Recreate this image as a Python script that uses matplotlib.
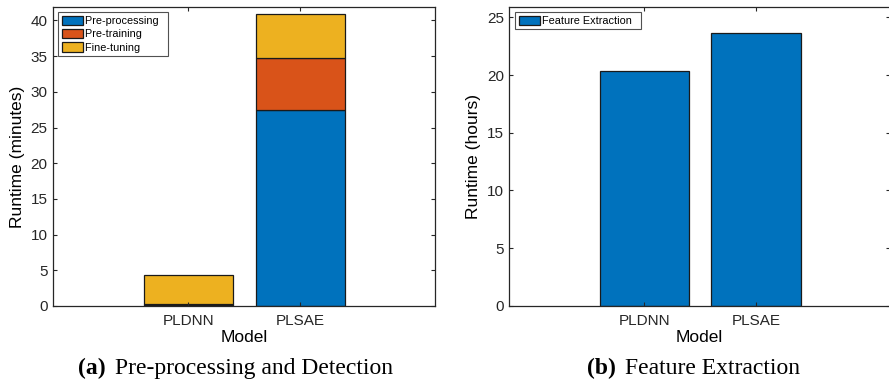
import matplotlib.pyplot as plt
import numpy as np

models = ['PLDNN', 'PLSAE']
pre_processing = [0.15, 27.5]
pre_training = [0.10, 7.2]
fine_tuning = [4.1, 6.2]
feature_extraction = [20.35, 23.6]

stage_names = ['Pre-processing', 'Pre-training', 'Fine-tuning']
colors = ['#0072BD', '#D95319', '#EDB120']

plt.rcParams['font.family'] = ['Liberation Sans', 'DejaVu Sans']

fig = plt.figure(figsize=(8.89, 3.82), dpi=100)
ax1 = fig.add_axes([0.0596, 0.199, 0.4294, 0.783])
ax2 = fig.add_axes([0.5729, 0.199, 0.4281, 0.783])

x = np.arange(1, len(models) + 1)

bottom = np.zeros(len(models))
for vals, name, c in zip([pre_processing, pre_training, fine_tuning],
                         stage_names, colors):
    # trailing spaces mimic the roomy MATLAB legend box
    ax1.bar(x, vals, 0.8, bottom=bottom, color=c, edgecolor='#1a1a1a',
            linewidth=0.9, label=name + '  ')
    bottom += np.array(vals)

ax2.bar(x, feature_extraction, 0.8, color=colors[0], edgecolor='#1a1a1a',
        linewidth=0.9, label='Feature Extraction  ')

for ax, ylab, ymax, yt in [(ax1, 'Runtime (minutes)', 41.9, np.arange(0, 41, 5)),
                           (ax2, 'Runtime (hours)', 25.9, np.arange(0, 26, 5))]:
    ax.set_xlim(-0.21, 3.2)
    ax.set_ylim(0, ymax)
    ax.set_xticks(x)
    ax.set_xticklabels(models)
    ax.set_yticks(yt)
    ax.tick_params(direction='in', length=3, width=0.8, labelsize=11,
                   top=True, right=True, colors='#262626', pad=4)
    ax.tick_params(axis='x', pad=6)
    for sp in ax.spines.values():
        sp.set_linewidth(0.9)
        sp.set_color('#262626')
    ax.set_ylabel(ylab, fontsize=12.5, labelpad=4)
    ax.set_xlabel('Model', fontsize=12.5, labelpad=1.5)

leg_kw = dict(loc='upper left', fontsize=7.8, frameon=True, fancybox=False,
              edgecolor='#262626', handlelength=2.0, handleheight=0.95,
              handletextpad=0.15, borderaxespad=0, borderpad=0.3,
              labelspacing=0.28)
leg1 = ax1.legend(bbox_to_anchor=(0.014, 0.982), **leg_kw)
leg2 = ax2.legend(bbox_to_anchor=(0.016, 0.982), **leg_kw)
for leg in [leg1, leg2]:
    leg.get_frame().set_linewidth(0.8)

serif = ['Liberation Serif', 'DejaVu Serif']
fig.text(78 / 889, 0.022, '(a)', fontsize=17, family=serif, weight='bold',
         ha='left', va='baseline')
fig.text(115 / 889, 0.022, 'Pre-processing and Detection', fontsize=17,
         family=serif, ha='left', va='baseline')
fig.text(587 / 889, 0.022, '(b)', fontsize=17, family=serif, weight='bold',
         ha='left', va='baseline')
fig.text(625 / 889, 0.022, 'Feature Extraction', fontsize=17,
         family=serif, ha='left', va='baseline')

fig.savefig('out.png', dpi=100)
